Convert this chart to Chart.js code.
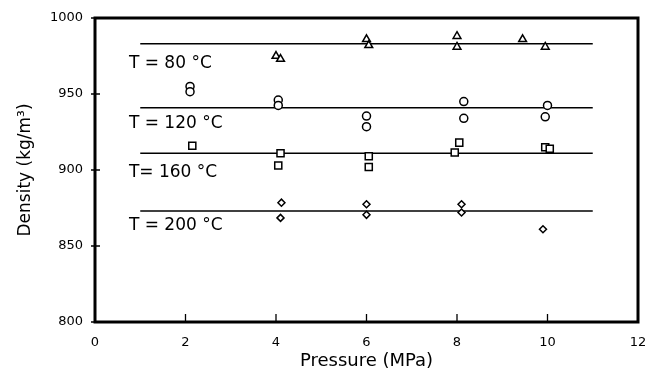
<!DOCTYPE html>
<html>
<head>
<meta charset="utf-8">
<script src="https://cdn.jsdelivr.net/npm/chart.js@4"></script>
<style>
  html, body { margin: 0; padding: 0; background: #fff; }
  #wrap { width: 645px; height: 373px; }
</style>
</head>
<body>
<div id="wrap"><canvas id="chart"></canvas></div>
<script>
// temperatures (series)
const seriesNames = ['T = 80 °C', 'T = 120 °C', 'T= 160 °C', 'T = 200 °C'];

// measured points, pressure (MPa) / density (kg/m3)
const p80 = [4.0, 4.1, 6.0, 6.05, 8.0, 8.0, 9.45, 9.95];
const d80 = [975, 973, 986, 982, 988, 981, 986, 981];

const p120 = [2.1, 2.1, 4.05, 4.05, 6.0, 6.0, 8.15, 8.15, 10.0, 9.95];
const d120 = [955, 951.5, 946, 942.5, 935.5, 928.5, 945, 934, 942.5, 935];

const p160 = [2.15, 4.1, 4.05, 6.05, 6.05, 8.05, 7.95, 9.95, 10.05];
const d160 = [916, 911, 903, 909, 902, 918, 911.5, 915, 914];

const p200 = [4.12, 4.1, 6.0, 6.0, 8.1, 8.1, 9.9];
const d200 = [878.5, 868.5, 877.5, 870.5, 877.5, 872, 861];

// mean density lines, drawn from 1 to 11 MPa
const lineRange = [1, 11];
const meanDensity = [983, 941, 911, 873];

// axis ticks
const xTicks = [0, 2, 4, 6, 8, 10, 12];
const yTicks = [800, 850, 900, 950, 1000];

// where the T labels sit (data units)
const labelPressure = 0.75;
const labelDensity = [967, 927.5, 895.5, 860.5];

const pairs = (xs, ys) => xs.map((x, i) => ({ x: x, y: ys[i] }));

const pointSets = [
    { data: pairs(p80, d80), pointStyle: 'triangle', pointRadius: 4.5 },
    { data: pairs(p120, d120), pointStyle: 'circle', pointRadius: 4 },
    { data: pairs(p160, d160), pointStyle: 'rect', pointRadius: 5 },
    { data: pairs(p200, d200), pointStyle: 'rectRot', pointRadius: 3.5 }
].map((s, i) => Object.assign({
    label: seriesNames[i],
    showLine: false,
    borderColor: '#000',
    backgroundColor: '#fff',
    pointBorderWidth: 1.5,
    order: 0
}, s));

const lineSets = meanDensity.map((d, i) => ({
    label: seriesNames[i] + ' mean',
    data: lineRange.map(x => ({ x: x, y: d })),
    showLine: true,
    borderColor: '#000',
    borderWidth: 1.5,
    pointRadius: 0,
    order: 1
}));

// frame, inner ticks and the T labels
const framePlugin = {
    id: 'frame',
    afterDraw(chart) {
        const { ctx, chartArea: a, scales } = chart;
        ctx.save();
        ctx.strokeStyle = '#000';
        ctx.lineWidth = 1.3;
        ctx.beginPath();
        xTicks.forEach(v => {
            const px = scales.x.getPixelForValue(v);
            ctx.moveTo(px, a.bottom);
            ctx.lineTo(px, a.bottom - 8);
        });
        yTicks.forEach(v => {
            const py = scales.y.getPixelForValue(v);
            ctx.moveTo(a.left - 4, py);
            ctx.lineTo(a.left + 5, py);
        });
        ctx.stroke();

        ctx.lineWidth = 3;
        ctx.strokeRect(a.left, a.top, a.right - a.left, a.bottom - a.top);

        ctx.fillStyle = '#000';
        ctx.font = '17px "DejaVu Sans"';
        ctx.textBaseline = 'alphabetic';
        ctx.textAlign = 'left';
        seriesNames.forEach((name, i) => {
            ctx.fillText(name, scales.x.getPixelForValue(labelPressure), scales.y.getPixelForValue(labelDensity[i]));
        });
        ctx.restore();
    }
};

const noPad = s => {
    s.paddingLeft = 0;
    s.paddingRight = 0;
    s.paddingTop = 0;
    s.paddingBottom = 0;
};

new Chart(document.getElementById('chart'), {
    type: 'scatter',
    data: { datasets: pointSets.concat(lineSets) },
    options: {
        responsive: true,
        maintainAspectRatio: false,
        animation: false,
        layout: { padding: { top: 18, right: 7, left: 0, bottom: 0 } },
        plugins: {
            legend: { display: false },
            tooltip: { enabled: false }
        },
        scales: {
            x: {
                type: 'linear',
                min: 0,
                max: 12,
                afterFit: s => { s.height = 51; noPad(s); },
                afterBuildTicks: s => { s.ticks = xTicks.map(v => ({ value: v })); },
                grid: { display: false, drawTicks: false },
                border: { display: false },
                ticks: {
                    color: '#000',
                    padding: 13,
                    callback: v => String(v),
                    font: { family: 'DejaVu Sans', size: 13 }
                },
                title: {
                    display: true,
                    text: 'Pressure (MPa)',
                    color: '#000',
                    padding: { top: 0, bottom: 1 },
                    font: { family: 'DejaVu Sans', size: 18 }
                }
            },
            y: {
                type: 'linear',
                min: 800,
                max: 1000,
                afterFit: s => { s.width = 95; noPad(s); },
                afterBuildTicks: s => { s.ticks = yTicks.map(v => ({ value: v })); },
                grid: { display: false, drawTicks: false },
                border: { display: false },
                ticks: {
                    color: '#000',
                    padding: 12,
                    callback: v => String(v),
                    font: { family: 'DejaVu Sans', size: 13 }
                },
                title: {
                    display: true,
                    text: 'Density (kg/m³)',
                    color: '#000',
                    padding: { top: 15, bottom: 0 },
                    font: { family: 'DejaVu Sans', size: 17 }
                }
            }
        }
    },
    plugins: [framePlugin]
});
</script>
</body>
</html>
